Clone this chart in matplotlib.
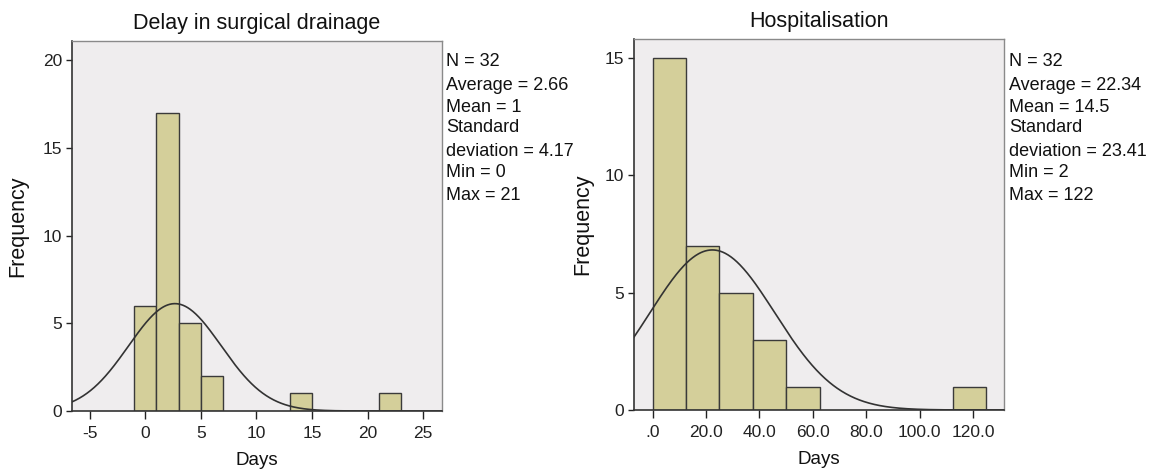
import numpy as np
import matplotlib
matplotlib.use("Agg")
import matplotlib.pyplot as plt

plt.rcParams['font.family'] = ['Liberation Sans', 'DejaVu Sans']

# ---- data ----
delay_bin_edges = [-1, 1, 3, 5, 7, 9, 11, 13, 15, 17, 19, 21, 23]
delay_counts = [6, 17, 5, 2, 0, 0, 0, 1, 0, 0, 0, 1]
delay_n, delay_mean, delay_sd = 32, 2.66, 4.17
delay_stats = ["N = 32", "Average = 2.66", "Mean = 1", "Standard",
               "deviation = 4.17", "Min = 0", "Max = 21"]
delay_xticks = [-5, 0, 5, 10, 15, 20, 25]
delay_xticklabels = ["-5", "0", "5", "10", "15", "20", "25"]
delay_yticks = [0, 5, 10, 15, 20]

hosp_bin_edges = [0, 12.5, 25, 37.5, 50, 62.5, 75, 87.5, 100, 112.5, 125]
hosp_counts = [15, 7, 5, 3, 1, 0, 0, 0, 0, 1]
hosp_n, hosp_mean, hosp_sd = 32, 22.34, 23.41
hosp_stats = ["N = 32", "Average = 22.34", "Mean = 14.5", "Standard",
              "deviation = 23.41", "Min = 2", "Max = 122"]
hosp_xticks = [0, 20, 40, 60, 80, 100, 120]
hosp_xticklabels = [".0", "20.0", "40.0", "60.0", "80.0", "100.0", "120.0"]
hosp_yticks = [0, 5, 10, 15]

W, H = 1153, 469
fig = plt.figure(figsize=(W / 100, H / 100), dpi=100)
fig.patch.set_facecolor('white')

BAR = '#D4CF9A'
BG = '#EFEDEE'


def panel(rect, edges, counts, n, mu, sd, xlim, ylim, xticks, xtl, yticks,
          title, stats, stats_x, stats_y, ylabel_x):
    ax = fig.add_axes(rect)
    ax.set_facecolor(BG)
    edges = np.array(edges, dtype=float)
    widths = np.diff(edges)
    for l, w, c in zip(edges[:-1], widths, counts):
        if c > 0:
            ax.bar(l, c, width=w, align='edge', color=BAR,
                   edgecolor='#3a3a3a', linewidth=1.0, zorder=2)
    bw = widths[0]
    xs = np.linspace(xlim[0], xlim[1], 500)
    ys = n * bw / (sd * np.sqrt(2 * np.pi)) * np.exp(-0.5 * ((xs - mu) / sd) ** 2)
    ax.plot(xs, ys, color='#333333', lw=1.2, zorder=3)
    ax.set_xlim(*xlim)
    ax.set_ylim(*ylim)
    ax.set_xticks(xticks)
    ax.set_xticklabels(xtl)
    ax.set_yticks(yticks)
    ax.tick_params(axis='both', labelsize=12.5, colors='#222222',
                   length=6, width=1, direction='out')
    ax.tick_params(axis='x', pad=5)
    ax.tick_params(axis='y', pad=3, length=4)
    for s in ['top', 'right']:
        ax.spines[s].set_color('#8a8a8a')
        ax.spines[s].set_linewidth(1.0)
    for s in ['left', 'bottom']:
        ax.spines[s].set_color('#333333')
        ax.spines[s].set_linewidth(1.2)
    ax.set_title(title, fontsize=15.5, pad=9, color='#111111')
    ax.set_xlabel("Days", fontsize=13.5, labelpad=8, color='#111111')
    ax.set_ylabel("Frequency", fontsize=15.5, color='#111111')
    ax.yaxis.set_label_coords(ylabel_x, 0.5)
    for t, yy in zip(stats, stats_y):
        fig.text(stats_x / W, 1 - yy / H, t, fontsize=13, va='center',
                 ha='left', color='#111111')
    return ax


stats_y = [61, 86, 107, 128, 152, 172, 196]

panel([72 / W, 1 - 411 / H, (442 - 72) / W, (411 - 41) / H],
      delay_bin_edges, delay_counts, delay_n, delay_mean, delay_sd,
      (-6.6, 26.7), (0, 21.1), delay_xticks, delay_xticklabels, delay_yticks,
      "Delay in surgical drainage", delay_stats, 446, stats_y,
      (28 - 72) / (442 - 72))

panel([634 / W, 1 - 410 / H, (1004 - 634) / W, (410 - 39) / H],
      hosp_bin_edges, hosp_counts, hosp_n, hosp_mean, hosp_sd,
      (-7.0, 131.6), (0, 15.8), hosp_xticks, hosp_xticklabels, hosp_yticks,
      "Hospitalisation", hosp_stats, 1009, stats_y,
      (593 - 634) / (1004 - 634))

fig.savefig("out.png", dpi=100, facecolor='white')
